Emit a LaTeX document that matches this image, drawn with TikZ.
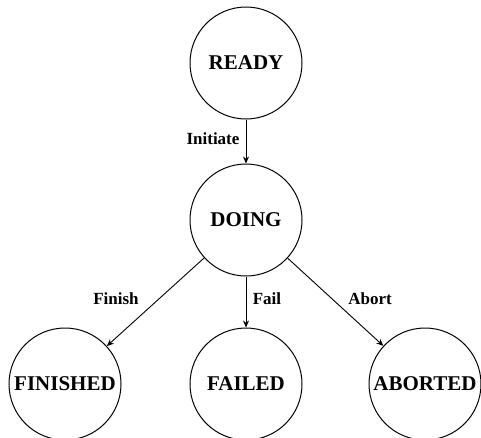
\documentclass[tikz,border=0pt]{standalone}
\usepackage{fontspec}
\setmainfont{Liberation Serif}
\usetikzlibrary{arrows.meta}
\begin{document}
\begin{tikzpicture}[x=1pt,y=-1pt,
  state/.style={circle,draw,line width=1pt,minimum size=112pt,inner sep=0pt,
    font=\fontsize{21}{24}\selectfont\bfseries},
  trans/.style={line width=0.9pt,-{Stealth[length=7pt,width=6pt]}},
  lbl/.style={font=\fontsize{17}{20}\selectfont\bfseries,inner sep=0pt}]
  \useasboundingbox (0,0) rectangle (481,437);
  \node[state] (ready) at (246,63) {READY};
  \node[state] (doing) at (246,220) {DOING};
  \node[state] (finished) at (65,384) {FINISHED};
  \node[state] (failed) at (246,384) {FAILED};
  \node[state] (aborted) at (425,384) {ABORTED};
  \draw[trans] (ready) -- (doing);
  \draw[trans] (doing) -- (finished);
  \draw[trans] (doing) -- (failed);
  \draw[trans] (doing) -- (aborted);
  \node[lbl] (linit) at (213,139) {Initiate};
  \node[lbl] (lfin) at (116,299) {Finish};
  \node[lbl] (lfail) at (267,299) {Fail};
  \node[lbl] (labort) at (370,299) {Abort};
\end{tikzpicture}
\end{document}
